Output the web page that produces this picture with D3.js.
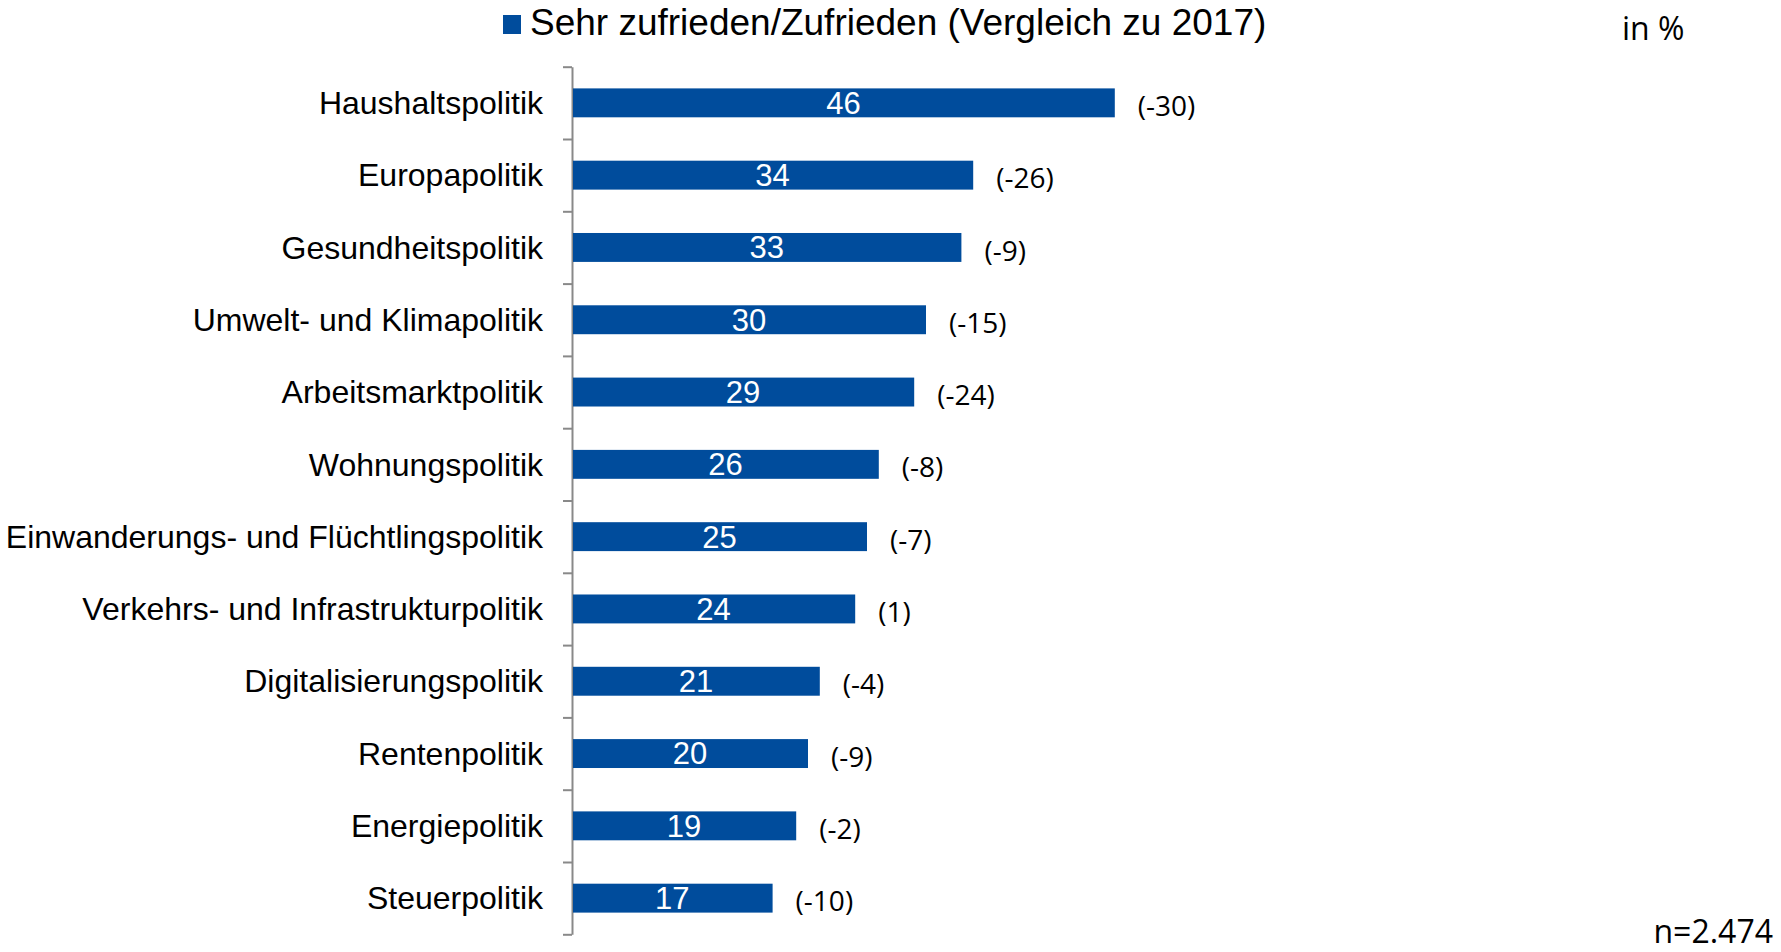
<!DOCTYPE html>
<html>
<head>
<meta charset="utf-8">
<script src="https://cdn.jsdelivr.net/npm/d3@7"></script>
<style>
  body { margin: 0; background: #fff; }
  .cat { font-family: Arial, "Liberation Sans", sans-serif; font-size: 32px; fill: #000; }
  .val { font-family: Arial, "Liberation Sans", sans-serif; font-size: 31px; fill: #fff; }
  .delta { font-family: "Open Sans", sans-serif; font-size: 28px; fill: #000; }
  .note { font-family: "Open Sans", sans-serif; font-size: 32px; fill: #000; }
</style>
</head>
<body>
<div id="chart"></div>
<script>
// data
var categories = [
  "Haushaltspolitik",
  "Europapolitik",
  "Gesundheitspolitik",
  "Umwelt- und Klimapolitik",
  "Arbeitsmarktpolitik",
  "Wohnungspolitik",
  "Einwanderungs- und Flüchtlingspolitik",
  "Verkehrs- und Infrastrukturpolitik",
  "Digitalisierungspolitik",
  "Rentenpolitik",
  "Energiepolitik",
  "Steuerpolitik"
];
var values = [46, 34, 33, 30, 29, 26, 25, 24, 21, 20, 19, 17];
var changes = ["(-30)", "(-26)", "(-9)", "(-15)", "(-24)", "(-8)", "(-7)", "(1)", "(-4)", "(-9)", "(-2)", "(-10)"];
var legendLabel = "Sehr zufrieden/Zufrieden (Vergleich zu 2017)";

// svg container
var svgWidth = 1781;
var svgHeight = 952;

var margin = { top: 66.7, left: 572, bottom: 17.7 };
var barColor = "#004c9c";

var svg = d3.select("#chart")
  .append("svg")
  .attr("width", svgWidth)
  .attr("height", svgHeight);

var rows = categories.map(function(c, i) {
  return { cat: c, value: values[i], change: changes[i] };
});

// scales
var xScale = d3.scaleLinear()
  .domain([0, 100])
  .range([margin.left, margin.left + 1180]);

var yScale = d3.scaleBand()
  .domain(categories)
  .range([margin.top, svgHeight - margin.bottom])
  .paddingInner(0.6)
  .paddingOuter(0.3);

// boundaries between categories for the tick marks
var yEdges = d3.scaleLinear()
  .domain([0, categories.length])
  .range([margin.top, svgHeight - margin.bottom]);

// axis line + ticks
var yAxis = svg.append("g")
  .attr("transform", `translate(${margin.left}, 0)`)
  .call(d3.axisLeft(yEdges)
    .tickValues(d3.range(categories.length + 1))
    .tickFormat("")
    .tickSize(9)
    .tickSizeOuter(0));

yAxis.selectAll("line, path")
  .attr("stroke", "#898989")
  .attr("stroke-width", 2);

// category labels
svg.append("g")
  .attr("transform", `translate(${margin.left}, 0)`)
  .call(d3.axisLeft(yScale).tickSize(0).tickPadding(29))
  .call(g => g.select(".domain").remove())
  .selectAll("text")
  .attr("class", "cat")
  .attr("font-size", null)
  .attr("font-family", null)
  .attr("dy", "0.35em");

// bars
svg.selectAll("rect.bar")
  .data(rows)
  .enter()
  .append("rect")
  .attr("class", "bar")
  .attr("x", xScale(0) + 1)
  .attr("y", d => yScale(d.cat))
  .attr("width", d => xScale(d.value) - xScale(0) - 1)
  .attr("height", yScale.bandwidth())
  .attr("fill", barColor);

// values inside bars
svg.selectAll("text.val")
  .data(rows)
  .enter()
  .append("text")
  .attr("class", "val")
  .attr("x", d => (xScale(0) + xScale(d.value)) / 2)
  .attr("y", d => yScale(d.cat) + yScale.bandwidth() / 2)
  .attr("dy", "0.35em")
  .attr("text-anchor", "middle")
  .text(d => d.value);

// change vs 2017
svg.selectAll("text.delta")
  .data(rows)
  .enter()
  .append("text")
  .attr("class", "delta")
  .attr("x", d => xScale(d.value) + 23)
  .attr("y", d => yScale(d.cat) + yScale.bandwidth() / 2 + 3)
  .attr("dy", "0.36em")
  .text(d => d.change);

// legend
svg.append("rect")
  .attr("x", 503)
  .attr("y", 15)
  .attr("width", 18)
  .attr("height", 19)
  .attr("fill", barColor);

svg.append("text")
  .attr("x", 530)
  .attr("y", 35)
  .attr("font-family", "Arial, 'Liberation Sans', sans-serif")
  .attr("font-size", 37)
  .text(legendLabel);

// unit + sample size
svg.append("text")
  .attr("class", "note")
  .attr("x", 1622)
  .attr("y", 40)
  .text("in %");

svg.append("text")
  .attr("class", "note")
  .attr("x", 1773)
  .attr("y", 943)
  .attr("text-anchor", "end")
  .text("n=2.474");
</script>
</body>
</html>
